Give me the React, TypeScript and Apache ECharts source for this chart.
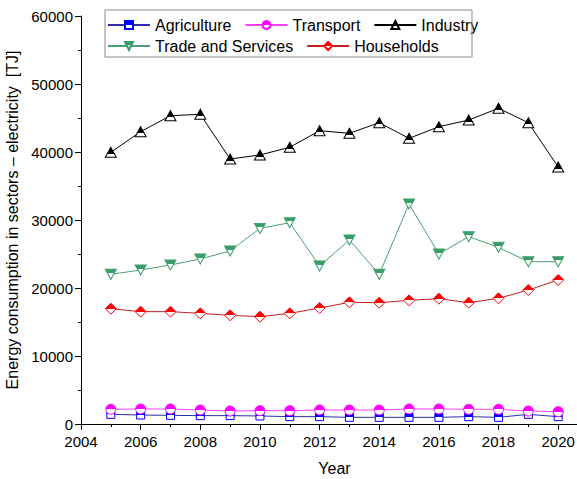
import { useEffect, useRef } from 'react';
import * as echarts from 'echarts';

// Electricity consumption by sector, TJ
const years = [2005, 2006, 2007, 2008, 2009, 2010, 2011, 2012, 2013, 2014, 2015, 2016, 2017, 2018, 2019, 2020];
const agriculture = [1420, 1320, 1270, 1230, 1230, 1180, 1080, 1080, 980, 980, 980, 980, 1080, 980, 1420, 1080];
const transport = [2160, 2210, 2210, 2060, 1910, 1960, 1960, 2060, 2060, 2060, 2210, 2210, 2160, 2160, 1910, 1810];
const industry = [39950, 42990, 45340, 45540, 38970, 39560, 40690, 43130, 42750, 44310, 42010, 43720, 44700, 46430, 44310, 37790];
const tradeServices = [22010, 22650, 23380, 24260, 25440, 28770, 29600, 23240, 27060, 22010, 32350, 25000, 27550, 25980, 23870, 23870];
const households = [16960, 16520, 16520, 16270, 15980, 15780, 16270, 17060, 17890, 17840, 18190, 18430, 17840, 18480, 19700, 21180];

const legendRow1 = ['Agriculture', 'Transport', 'Industry'];
const legendRow2 = ['Trade and Services', 'Households'];

const FONT = "Arial, 'Liberation Sans', sans-serif";

type Sector = {
  name: string;
  values: number[];
  line: string;
  marker: string;
  symbol: string;
  size: [number, number];
  split: number; // fraction of the marker height (from the top) that is filled
};

const sectors: Sector[] = [
  { name: 'Agriculture', values: agriculture, line: '#2e2ea6', marker: '#0000ff', symbol: 'rect', size: [8, 8], split: 0.5 },
  { name: 'Transport', values: transport, line: '#ff40ff', marker: '#ff00ff', symbol: 'circle', size: [10, 10], split: 0.5 },
  { name: 'Industry', values: industry, line: '#000000', marker: '#000000', symbol: 'path://M10,0 L20,18 L0,18 Z', size: [11, 10], split: 0.67 },
  { name: 'Trade and Services', values: tradeServices, line: '#4a9f73', marker: '#3a9e6a', symbol: 'path://M0,0 L20,0 L10,18 Z', size: [11, 10], split: 0.36 },
  { name: 'Households', values: households, line: '#c42020', marker: '#ff0000', symbol: 'diamond', size: [11, 11], split: 0.5 },
];

// Marker fill: solid colour above the split, white below it
function halfFill(color: string, split: number) {
  return new echarts.graphic.LinearGradient(0, 0, 0, 1, [
    { offset: 0, color },
    { offset: split, color },
    { offset: split, color: '#ffffff' },
    { offset: 1, color: '#ffffff' },
  ]);
}

function buildSeries() {
  return sectors.map((s) => ({
    name: s.name,
    type: 'line',
    data: years.map((y, i) => [y, s.values[i]]),
    symbol: s.symbol,
    symbolSize: s.size,
    showAllSymbol: true,
    lineStyle: { color: s.line, width: 1 },
    itemStyle: { color: halfFill(s.marker, s.split), borderColor: s.marker, borderWidth: 1 },
    z: 2,
  }));
}

export default function App() {
  const ref = useRef<HTMLDivElement>(null);

  useEffect(() => {
    if (!ref.current) return;
    const chart = echarts.init(ref.current, null, { renderer: 'svg' });
    const legendBase = {
      orient: 'horizontal',
      left: 107,
      itemWidth: 42,
      itemHeight: 10,
      itemGap: 13,
      padding: 0,
      textStyle: { fontFamily: FONT, fontSize: 16, color: '#000' },
    };
    chart.setOption({
      animation: false,
      backgroundColor: '#ffffff',
      textStyle: { fontFamily: FONT },
      graphic: [
        {
          type: 'rect',
          shape: { x: 105, y: 10, width: 367, height: 47 },
          style: { fill: 'none', stroke: '#8a8a8a', lineWidth: 1 },
          z: 10,
        },
      ],
      legend: [
        { ...legendBase, top: 17, data: legendRow1 },
        { ...legendBase, top: 38, data: legendRow2 },
      ],
      grid: {
        left: 81, right: -11, top: 16, bottom: 55,
        containLabel: false, outerBoundsMode: 'none',
      },
      xAxis: {
        type: 'value',
        min: 2004,
        max: 2021,
        interval: 2,
        name: 'Year',
        nameLocation: 'middle',
        nameGap: 36,
        nameTextStyle: { fontFamily: FONT, fontSize: 16, color: '#000' },
        axisLine: { onZero: false, lineStyle: { color: '#000', width: 1 } },
        axisTick: { show: true, inside: false, length: 6, lineStyle: { color: '#000' } },
        minorTick: { show: true, splitNumber: 2, length: 3, lineStyle: { color: '#000' } },
        axisLabel: {
          fontFamily: FONT, fontSize: 15, color: '#000', margin: 10,
          formatter: (v: number) => (v % 2 === 0 ? String(v) : ''),
        },
        splitLine: { show: false },
      },
      yAxis: {
        type: 'value',
        min: 0,
        max: 60000,
        interval: 10000,
        name: 'Energy consumption in sectors \u2013 electricity  [TJ]',
        nameLocation: 'middle',
        nameGap: 52,
        nameTextStyle: { fontFamily: FONT, fontSize: 16, color: '#000' },
        axisLine: { show: true, lineStyle: { color: '#000', width: 1 } },
        axisTick: { show: true, inside: false, length: 6, lineStyle: { color: '#000' } },
        minorTick: { show: true, splitNumber: 2, length: 3, lineStyle: { color: '#000' } },
        axisLabel: {
          fontFamily: FONT, fontSize: 15, color: '#000', margin: 8,
          formatter: (v: number) => String(v),
        },
        splitLine: { show: false },
      },
      series: buildSeries(),
    });
    return () => chart.dispose();
  }, []);

  return (
    <div
      ref={ref}
      style={{ position: 'fixed', left: 0, top: 0, width: 577, height: 479, overflow: 'hidden' }}
    />
  );
}
